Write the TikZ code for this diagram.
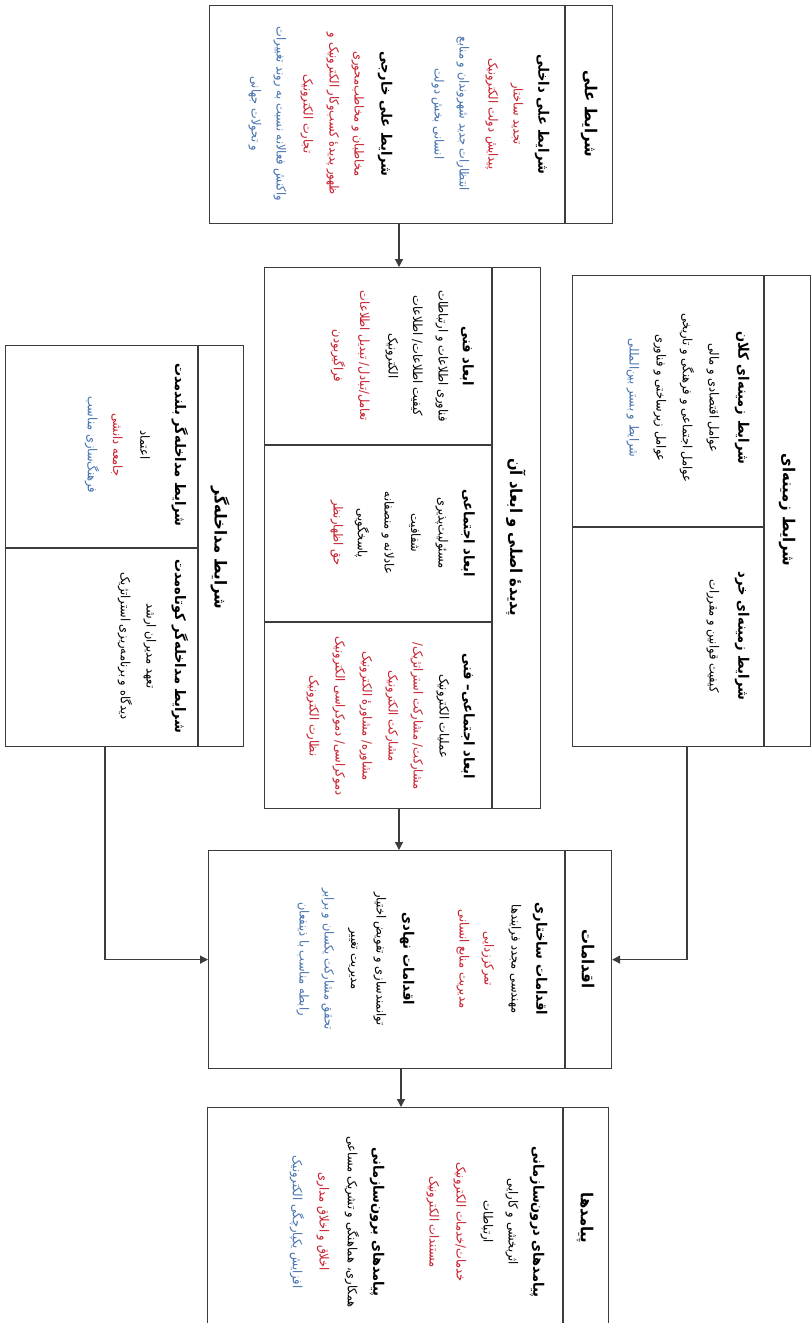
\documentclass[tikz,border=0pt]{standalone}
\usepackage{fontspec}
\usetikzlibrary{arrows.meta}
\newfontfamily\fa[Script=Arabic, FakeStretch=0.9]{DejaVu Sans}
\TeXXeTstate=1
\newcommand{\RL}[1]{\beginR #1\endR}
\newcommand{\mytext}[5]{\node[#1] (#2) at (#3,#4) {\RL{#5}};}
\definecolor{lc}{RGB}{60,60,60}
\definecolor{rd}{RGB}{200,30,45}
\definecolor{bl}{RGB}{70,115,175}
\begin{document}
\begin{tikzpicture}[x=1pt,y=-1pt,
  frame/.style={draw=lc, line width=1.2pt, inner sep=0pt, anchor=north west},
  ttl/.style={rotate=-90, font=\fa\bfseries\fontsize{16.5}{18}\selectfont, inner sep=0pt},
  hd/.style={rotate=-90, font=\fa\bfseries\fontsize{14.5}{16}\selectfont, inner sep=0pt},
  itm/.style={rotate=-90, font=\fa\fontsize{12.7}{14}\selectfont, inner sep=0pt},
  rit/.style={itm, text=rd},
  bit/.style={itm, text=bl},
  arr/.style={draw=lc, line width=1.2pt, -{Triangle[length=8pt,width=8pt]}}
]
\useasboundingbox (0,0) rectangle (811,1323);
\clip (0,0) rectangle (811,1323);
\fill[white] (0,0) rectangle (811,1323);

% frames
\node[frame, minimum width=403pt, minimum height=218pt] (b1) at (209,5) {};
\node[frame, minimum width=276pt, minimum height=541pt] (b2) at (264,267) {};
\node[frame, minimum width=238pt, minimum height=471pt] (b3) at (572,275) {};
\node[frame, minimum width=238pt, minimum height=401pt] (b4) at (5,345) {};
\node[frame, minimum width=403pt, minimum height=218pt] (b5) at (208,850) {};
\node[frame, minimum width=401pt, minimum height=240pt] (b6) at (207,1107) {};

% dividers
\draw[lc, line width=1.2pt] (565,5) -- (565,223);
\draw[lc, line width=2pt] (492,267) -- (492,808);
\draw[lc, line width=1.2pt] (264,445) -- (492,445);
\draw[lc, line width=1.2pt] (264,622) -- (492,622);
\draw[lc, line width=1.2pt] (764,275) -- (764,746);
\draw[lc, line width=1.2pt] (572,527) -- (764,527);
\draw[lc, line width=1.2pt] (198,345) -- (198,746);
\draw[lc, line width=1.2pt] (5,548) -- (198,548);
\draw[lc, line width=1.2pt] (565,850) -- (565,1068);
\draw[lc, line width=1.2pt] (563,1107) -- (563,1347);

% connectors
\coordinate (xa) at (399,0);
\coordinate (xb) at (401,0);
\coordinate (xl) at (105,0);
\coordinate (xr) at (687,0);
\draw[arr] (b1.south -| xa) -- (b2.north -| xa);
\draw[arr] (b2.south -| xa) -- (b5.north -| xa);
\draw[arr] (b5.south -| xb) -- (b6.north -| xb);
\draw[arr] (b4.south -| xl) |- (b5.west);
\draw[arr] (b3.south -| xr) |- (b5.east);

% box 1
\mytext{ttl}{a0}{589}{114}{شرایط علی}
\mytext{hd}{a1}{542}{114}{شرایط علی داخلی}
\mytext{rit}{a2}{517}{114}{تجدید ساختار}
\mytext{rit}{a3}{492}{114}{پیدایش دولت الکترونیک}
\mytext{bit}{a4}{463}{114}{انتظارات جدید شهروندان و منابع}
\mytext{bit}{a5}{438}{114}{انسانی بخش دولت}
\mytext{hd}{a6}{385}{114}{شرایط علی خارجی}
\mytext{rit}{a7}{358}{114}{مخاطبان و مخاطب^^^^200cمحوری}
\mytext{rit}{a8}{333}{114}{ظهور پدیده^^^^0654 کسب^^^^200cوکار الکترونیک و}
\mytext{rit}{a9}{307}{114}{تجارت الکترونیک}
\mytext{bit}{a10}{280}{114}{واکنش فعالانه نسبت به روند تغییرات}
\mytext{bit}{a11}{255}{114}{و تحولات جهانی}

% box 2
\mytext{ttl}{p0}{516}{537}{پدیده^^^^0654 اصلی و ابعاد آن}
\mytext{hd}{p1}{467}{356}{ابعاد فنی}
\mytext{itm}{p2}{442}{356}{فناوری اطلاعات و ارتباطات}
\mytext{itm}{p3}{417}{356}{کیفیت اطلاعات/ اطلاعات}
\mytext{itm}{p4}{392}{356}{الکترونیک}
\mytext{rit}{p5}{364}{356}{تعامل/تبادل/ تبدیل اطلاعات}
\mytext{rit}{p6}{338}{356}{فراگیربودن}
\mytext{hd}{q1}{468}{533}{ابعاد اجتماعی}
\mytext{itm}{q2}{442}{533}{مسئولیت^^^^200cپذیری}
\mytext{itm}{q3}{415}{533}{شفافیت}
\mytext{itm}{q4}{388}{533}{عادلانه و منصفانه}
\mytext{itm}{q5}{362}{533}{پاسخگویی}
\mytext{rit}{q6}{337}{533}{حق اظهارنظر}
\mytext{hd}{r1}{468}{716}{ابعاد اجتماعی– فنی}
\mytext{itm}{r2}{443}{716}{عملیات الکترونیک}
\mytext{rit}{r3}{417}{716}{مشارکت/ مشارکت استراتژیک/}
\mytext{rit}{r4}{392}{716}{مشارکت الکترونیک}
\mytext{rit}{r5}{366}{716}{مشاوره/ مشاوره^^^^0654 الکترونیک}
\mytext{rit}{r6}{339}{716}{دموکراسی/ دموکراسی الکترونیک}
\mytext{rit}{r7}{313}{716}{نظارت الکترونیک}

% box 3
\mytext{ttl}{z0}{787}{510}{شرایط زمینه^^^^200cای}
\mytext{hd}{z1}{742}{398}{شرایط زمینه^^^^200cای کلان}
\mytext{itm}{z2}{713}{398}{عوامل اقتصادی و مالی}
\mytext{itm}{z3}{687}{398}{عوامل اجتماعی و فرهنگی و تاریخی}
\mytext{itm}{z4}{660}{398}{عوامل زیرساختی و فناوری}
\mytext{bit}{z5}{633}{398}{شرایط و بستر بین^^^^200cالمللی}
\mytext{hd}{z6}{742}{636}{شرایط زمینه^^^^200cای خرد}
\mytext{itm}{z7}{713}{636}{کیفیت قوانین و مقررات}

% box 4
\mytext{ttl}{m0}{220}{548}{شرایط مداخله^^^^200cگر}
\mytext{hd}{m1}{180}{445}{شرایط مداخله^^^^200cگر بلندمدت}
\mytext{itm}{m2}{145}{445}{اعتماد}
\mytext{rit}{m3}{117}{445}{جامعه دانشی}
\mytext{bit}{m4}{92}{445}{فرهنگ^^^^200cسازی مناسب}
\mytext{hd}{m5}{180}{646}{شرایط مداخله^^^^200cگر کوتاه^^^^200cمدت}
\mytext{itm}{m6}{150}{646}{تعهد مدیران ارشد}
\mytext{itm}{m7}{125}{646}{دیدگاه و برنامه^^^^200cریزی استراتژیک}

% box 5
\mytext{ttl}{e0}{588}{959}{اقدامات}
\mytext{hd}{e1}{540}{959}{اقدامات ساختاری}
\mytext{itm}{e2}{515}{959}{مهندسی مجدد فرایندها}
\mytext{rit}{e3}{488}{959}{تمرکززدایی}
\mytext{rit}{e4}{463}{959}{مدیریت منابع انسانی}
\mytext{hd}{e5}{407}{959}{اقدامات نهادی}
\mytext{itm}{e6}{380}{959}{توانمندسازی و تفویض اختیار}
\mytext{itm}{e7}{353}{959}{مدیریت تغییر}
\mytext{bit}{e8}{328}{959}{تحقق مشارکت یکسان و برابر}
\mytext{bit}{e9}{303}{959}{رابطه مناسب با ذینفعان}

% box 6
\mytext{ttl}{o0}{585}{1218}{پیامدها}
\mytext{hd}{o1}{537}{1222}{پیامدهای درون^^^^200cسازمانی}
\mytext{itm}{o2}{512}{1222}{اثربخشی و کارایی}
\mytext{itm}{o3}{487}{1222}{ارتباطات}
\mytext{rit}{o4}{460}{1222}{خدمات/خدمات الکترونیک}
\mytext{rit}{o5}{433}{1222}{مستندات الکترونیک}
\mytext{hd}{o6}{377}{1222}{پیامدهای برون^^^^200cسازمانی}
\mytext{itm}{o7}{352}{1222}{همکاری، هماهنگی و تشریک مساعی}
\mytext{rit}{o8}{323}{1222}{اخلاق و اخلاق مداری}
\mytext{bit}{o9}{297}{1222}{افزایش یکپارچگی الکترونیک}
\end{tikzpicture}
\end{document}
